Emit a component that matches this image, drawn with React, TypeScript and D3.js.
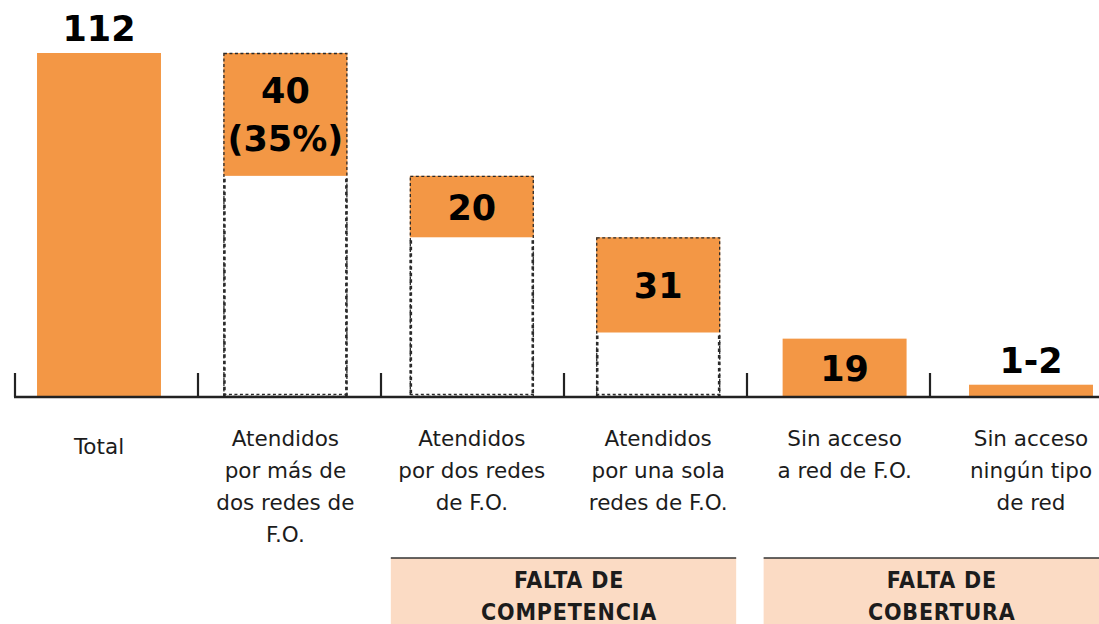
import React, { useEffect } from "react"
import { scaleBand, scaleLinear } from "d3"

// categories and their (multi line) axis labels
const categories = ["total", "mas2", "dos", "una", "sinFO", "sinRed"]
const labelLines = [
    ["Total"],
    ["Atendidos", "por más de", "dos redes de", "F.O."],
    ["Atendidos", "por dos redes", "de F.O."],
    ["Atendidos", "por una sola", "redes de F.O."],
    ["Sin acceso", "a red de F.O."],
    ["Sin acceso", "ningún tipo", "de red"],
]
// values; the last one is drawn as a small sliver
const values = [112, 40, 20, 31, 19, 4]
const valueLabels = [["112"], ["40", "(35%)"], ["20"], ["31"], ["19"], ["1-2"]]
// total = full bar, step = hangs from the running total, solid = from zero
const kinds = ["total", "step", "step", "step", "solid", "solid"]

const groupLabels = [["FALTA DE", "COMPETENCIA"], ["FALTA DE", "COBERTURA"]]
const groupFrom = ["dos", "sinFO"]
const groupTo = ["una", "sinRed"]

const W = 1099
const H = 624
const ORANGE = "#F39745"
const PINK = "#FBDBC4"
const INK = "#1c1c1c"

const App = () => {
    useEffect(() => {
        document.body.style.margin = "0"
        document.body.style.overflow = "hidden"
    }, [])

    const base = 397
    const y = scaleLinear().domain([0, 112]).range([base, 53])
    const x = scaleBand().domain(categories).range([5.8, 5.8 + 6 * 186.4]).paddingInner(0.335).paddingOuter(0.1675)
    const tx = scaleBand().domain(categories).range([14, 14 + 6 * 183]).padding(0)
    const bw = x.bandwidth()

    // waterfall: work out top / bottom for each bar
    let running = 0
    const bars = categories.map((c, i) => {
        const v = values[i]
        let top = 0, bottom = 0
        if (kinds[i] === "total") { top = v; bottom = 0; running = v }
        else if (kinds[i] === "step") { top = running; bottom = running - v; running = bottom }
        else { top = v; bottom = 0 }
        return { c, i, top, bottom, kind: kinds[i] }
    })

    return (
        <svg width={W} height={H} style={{ position: "absolute", left: 0, top: 0, background: "#fff" }}>
            {/* bars */}
            {bars.map(b => {
                const x0 = x(b.c)!
                const yTop = y(b.top)
                const yBot = y(b.bottom)
                return (
                    <g key={b.c}>
                        <rect x={x0} y={yTop} width={bw} height={yBot - yTop} fill={ORANGE} />
                        {b.kind === "step" && (
                            <g fill="none" stroke="#2a2a2a">
                                <rect x={x0 + 0.5} y={yTop + 0.5} width={bw - 1} height={base - yTop - 1}
                                    strokeWidth={1.3} strokeDasharray="3 2.5" />
                                <line x1={x0 + 1} x2={x0 + 1} y1={yBot + 3} y2={base} strokeWidth={2.6} strokeDasharray="3.5 3" />
                                <line x1={x0 + bw - 1} x2={x0 + bw - 1} y1={yBot + 3} y2={base} strokeWidth={2.6} strokeDasharray="3.5 3" />
                                <line x1={x0} x2={x0 + bw} y1={base - 2.5} y2={base - 2.5} strokeWidth={1.5} strokeDasharray="3 2.5" />
                            </g>
                        )}
                    </g>
                )
            })}

            {/* value labels */}
            {bars.map(b => {
                const cx = x(b.c)! + bw / 2
                const lines = valueLabels[b.i]
                const h = y(b.bottom) - y(b.top)
                const lh = 48
                const outside = b.kind === "total" || h < 35
                const firstBase = outside
                    ? y(b.top) - 12 - (lines.length - 1) * lh
                    : (y(b.top) + y(b.bottom)) / 2 + 13 - (lines.length - 1) * lh / 2
                return (
                    <text key={"v" + b.c} x={cx} textAnchor="middle" fill="#000"
                        style={{ fontFamily: "'DejaVu Sans', sans-serif", fontWeight: 700, fontSize: 35 }}>
                        {lines.map((l, k) => (
                            <tspan key={k} x={cx} y={firstBase + k * lh}>{l}</tspan>
                        ))}
                    </text>
                )
            })}

            {/* axis */}
            <line x1={14} x2={W} y1={base} y2={base} stroke="#222" strokeWidth={2.5} />
            {categories.map(c => (
                <line key={"t" + c} x1={tx(c)! + 1} x2={tx(c)! + 1} y1={373} y2={base} stroke="#222" strokeWidth={2.2} />
            ))}

            {/* category labels */}
            {categories.map((c, i) => {
                const cx = x(c)! + bw / 2
                const lines = labelLines[i]
                const y0 = lines.length === 1 ? 454 : 446
                return (
                    <text key={"l" + c} x={cx} textAnchor="middle" fill={INK}
                        style={{ fontFamily: "'DejaVu Sans', sans-serif", fontSize: 21.5 }}>
                        {lines.map((l, k) => (
                            <tspan key={k} x={cx} y={y0 + k * 32}>{l}</tspan>
                        ))}
                    </text>
                )
            })}

            {/* group boxes */}
            {groupLabels.map((g, i) => {
                const gx0 = x(groupFrom[i])! - 19
                const gx1 = Math.min(W, x(groupTo[i])! + bw + 16)
                const cx = (x(groupFrom[i])! + x(groupTo[i])! + bw) / 2 + 4
                return (
                    <g key={"g" + i}>
                        <rect x={gx0} y={558} width={gx1 - gx0} height={H - 558} fill={PINK} />
                        <line x1={gx0} x2={gx1} y1={558} y2={558} stroke="#333" strokeWidth={1.5} />
                        <text x={cx} textAnchor="middle" fill={INK}
                            style={{ fontFamily: "'DejaVu Sans Condensed', 'DejaVu Sans', sans-serif", fontWeight: 700, fontSize: 23, letterSpacing: 0.8 }}>
                            {g.map((l, k) => (
                                <tspan key={k} x={cx} y={588 + k * 32}>{l}</tspan>
                            ))}
                        </text>
                    </g>
                )
            })}
        </svg>
    )
}

export default App
